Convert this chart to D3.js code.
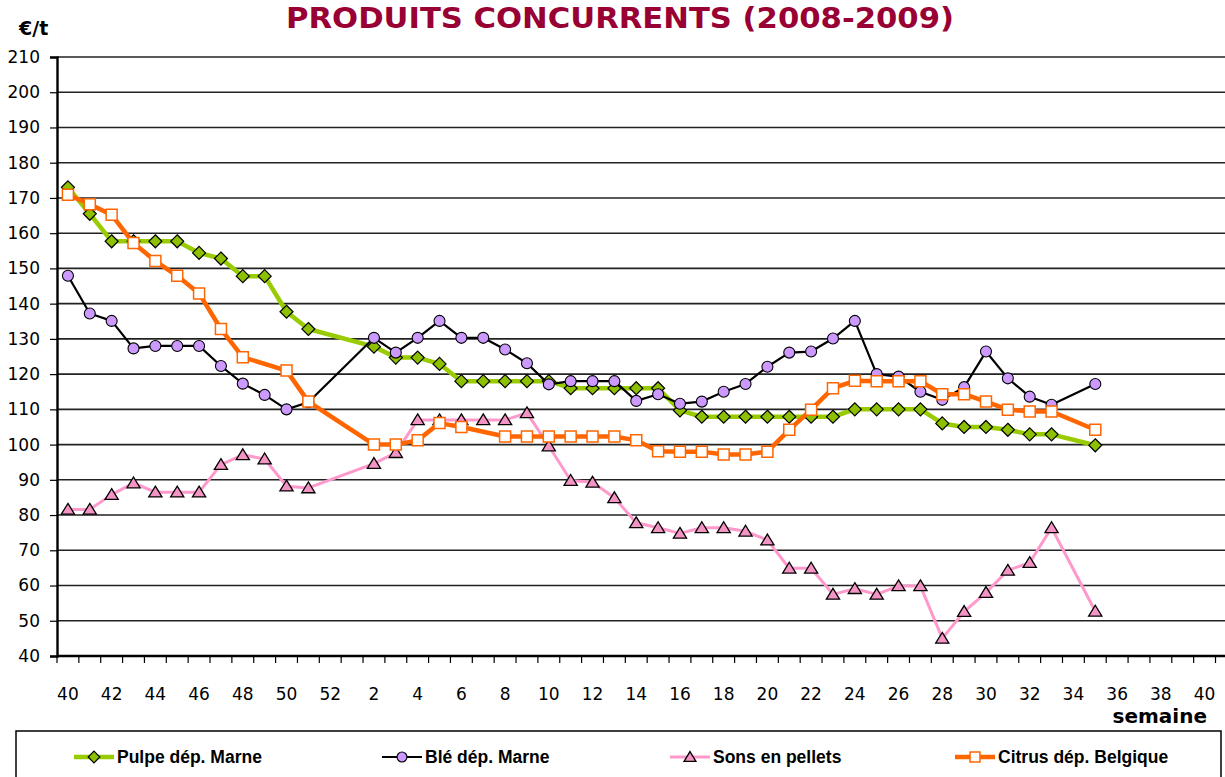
<!DOCTYPE html>
<html>
<head>
<meta charset="utf-8">
<script src="https://cdn.jsdelivr.net/npm/d3@7"></script>
<style>
  html, body { margin: 0; padding: 0; background: #fff; }
  svg { display: block; }
</style>
</head>
<body>
<div id="chart"></div>
<script>
// week labels on the category axis (2008 weeks 40..52, then 2009 weeks 1..40)
const weeks = [40, 41, 42, 43, 44, 45, 46, 47, 48, 49, 50, 51, 52,
	1, 2, 3, 4, 5, 6, 7, 8, 9, 10, 11, 12, 13, 14, 15, 16, 17, 18, 19, 20,
	21, 22, 23, 24, 25, 26, 27, 28, 29, 30, 31, 32, 33, 34, 35, 36, 37, 38, 39, 40];
const yTicks = [40, 50, 60, 70, 80, 90, 100, 110, 120, 130, 140, 150, 160, 170, 180, 190, 200, 210];

// values in €/t, from week 40 (2008) to week 35 (2009); null = no quote
const pulpe = [173, 165.5, 157.7, 157.7, 157.7, 157.7, 154.4, 152.8, 147.8, 147.8, 137.7, 132.8, null, null,
	127.8, 124.7, 124.7, 122.9, 118, 118, 118, 118, 118, 116, 116, 116, 116, 116, 109.7,
	107.9, 107.9, 107.9, 107.9, 107.9, 107.9, 107.9, 110, 110, 110, 110, 106, 105, 105, 104.2, 102.9, 102.9, null, 99.8];
const ble = [147.9, 137.2, 135.1, 127.3, 128, 128, 128, 122.3, 117.3, 114.1, 110, 112, null, null,
	130.3, 126.1, 130.3, 135.1, 130.3, 130.3, 127, 123.1, 117.1, 118, 118, 118, 112.4, 114.3, 111.6,
	112.2, 115, 117.2, 122.1, 126.1, 126.4, 130.1, 135.1, 120, 119.3, 115, 112.7, 116.3, 126.4, 118.8, 113.6, 111.3, null, 117.2];
const sons = [81.6, 81.6, 85.8, 89.1, 86.5, 86.5, 86.5, 94.3, 97.1, 95.9, 88.2, 87.7, null, null,
	94.6, 97.7, 107, 107, 107, 107, 107, 109, 99.6, 89.8, 89.3, 84.9, 77.8, 76.4, 74.8,
	76.4, 76.4, 75.4, 72.9, 64.9, 64.9, 57.5, 59.1, 57.5, 59.9, 59.9, 45, 52.6, 58, 64.3, 66.5, 76.4, null, 52.7];
const citrus = [170.9, 168.2, 165.2, 157.2, 152.1, 147.9, 142.9, 132.8, 124.8, null, 121, 112.2, null, null,
	100, 100, 101.2, 106.1, 105, null, 102.3, 102.3, 102.3, 102.3, 102.3, 102.3, 101.2, 98.1, 98,
	98, 97.2, 97.2, 98, 104.2, 109.9, 116, 118.1, 118, 118, 118, 114.3, 114.3, 112.2, 109.9, 109.4, 109.4, null, 104.2];

const seriesNames = ["Pulpe dép. Marne", "Blé dép. Marne", "Sons en pellets", "Citrus dép. Belgique"];

const W = 1225, H = 777;
const plot = {left: 57, right: 1215.5, top: 57, bottom: 656};
const tickFont = "'DejaVu Sans', Verdana, sans-serif";

const svg = d3.select("#chart").append("svg")
	.attr("width", W)
	.attr("height", H);

const x = d3.scaleBand()
	.domain(d3.range(weeks.length))
	.range([plot.left, plot.right])
	.paddingInner(0).paddingOuter(0);
const y = d3.scaleLinear()
	.domain([40, 210])
	.range([plot.bottom, plot.top]);
const cx = i => x(i) + x.bandwidth() / 2;

// marker shapes
const marker = {
	diamond: s => `M0,${-s}L${s},0L0,${s}L${-s},0Z`,
	circle: s => `M${s},0A${s},${s} 0 1,1 ${-s},0A${s},${s} 0 1,1 ${s},0Z`,
	square: s => `M${-s},${-s}H${s}V${s}H${-s}Z`,
	triangle: s => `M0,${-s}L${s * 1.1},${s * 0.8}L${-s * 1.1},${s * 0.8}Z`
};

const series = [
	{name: seriesNames[0], values: pulpe, line: "#99cc00", lw: 4.5, shape: "diamond", size: 6.5, fill: "#8dc000", stroke: "#000", sw: 1.2},
	{name: seriesNames[1], values: ble, line: "#000000", lw: 2.2, shape: "circle", size: 5.5, fill: "#cc99ff", stroke: "#000", sw: 1.1},
	{name: seriesNames[2], values: sons, line: "#ff99cc", lw: 3, shape: "triangle", size: 6, fill: "#f394c4", stroke: "#000", sw: 1.3},
	{name: seriesNames[3], values: citrus, line: "#ff6600", lw: 4.5, shape: "square", size: 5.5, fill: "#ffffff", stroke: "#ff6600", sw: 1.5}
];

// title
svg.append("text")
	.attr("x", 620)
	.attr("y", 28)
	.attr("text-anchor", "middle")
	.attr("font-family", "'DejaVu Sans', Verdana, sans-serif")
	.attr("font-weight", "bold")
	.attr("font-size", 28)
	.attr("fill", "#990033")
	.attr("textLength", 668)
	.attr("lengthAdjust", "spacingAndGlyphs")
	.text("PRODUITS CONCURRENTS (2008-2009)");

// unit
svg.append("text")
	.attr("x", 19)
	.attr("y", 35)
	.attr("font-family", tickFont)
	.attr("font-weight", "bold")
	.attr("font-size", 19)
	.text("€/t");

// horizontal gridlines
svg.append("g")
	.selectAll("line")
	.data(yTicks)
	.join("line")
		.attr("x1", plot.left)
		.attr("x2", W)
		.attr("y1", d => y(d))
		.attr("y2", d => y(d))
		.attr("stroke", d => d === 40 ? "#000" : "#222")
		.attr("stroke-width", d => d === 40 ? 2.2 : 1.6);

// Y axis
const yAxis = svg.append("g")
	.attr("transform", `translate(${plot.left},0)`)
	.call(d3.axisLeft(y).tickValues(yTicks).tickSize(7).tickPadding(10));
yAxis.select(".domain").attr("stroke", "#000").attr("stroke-width", 2.4);
yAxis.selectAll(".tick line").attr("stroke", "#000").attr("stroke-width", 1.2);
yAxis.selectAll(".tick text")
	.attr("font-family", tickFont)
	.attr("font-size", 17)
	.attr("fill", "#000");

// X axis: ticks on the category boundaries, labels every second week
const xAxisG = svg.append("g");
xAxisG.append("line")
	.attr("x1", plot.left)
	.attr("x2", W)
	.attr("y1", y(40))
	.attr("y2", y(40))
	.attr("stroke", "#000")
	.attr("stroke-width", 2.4);
xAxisG.selectAll(".xtick")
	.data(d3.range(weeks.length + 1))
	.join("line")
		.attr("class", "xtick")
		.attr("x1", i => plot.left + i * x.step())
		.attr("x2", i => plot.left + i * x.step())
		.attr("y1", y(40))
		.attr("y2", y(40) + 7)
		.attr("stroke", "#000")
		.attr("stroke-width", 1.2);
xAxisG.selectAll(".xlabel")
	.data(d3.range(weeks.length).filter(i => i % 2 === 0))
	.join("text")
		.attr("class", "xlabel")
		.attr("x", i => cx(i))
		.attr("y", 700)
		.attr("text-anchor", "middle")
		.attr("font-family", tickFont)
		.attr("font-size", 17)
		.text(i => weeks[i]);

svg.append("text")
	.attr("x", 1207)
	.attr("y", 723)
	.attr("text-anchor", "end")
	.attr("font-family", tickFont)
	.attr("font-weight", "bold")
	.attr("font-size", 20)
	.text("semaine");

// series
const line = d3.line()
	.x(d => cx(d.i))
	.y(d => y(d.v));

for (const s of series) {
	const pts = s.values.map((v, i) => ({i, v})).filter(d => d.v !== null);
	const g = svg.append("g");
	g.append("path")
		.datum(pts)
		.attr("d", line)
		.attr("fill", "none")
		.attr("stroke", s.line)
		.attr("stroke-width", s.lw)
		.attr("stroke-linejoin", "round");
	g.selectAll("path.mk")
		.data(pts)
		.join("path")
			.attr("class", "mk")
			.attr("transform", d => `translate(${cx(d.i)},${y(d.v)})`)
			.attr("d", marker[s.shape](s.size))
			.attr("fill", s.fill)
			.attr("stroke", s.stroke)
			.attr("stroke-width", s.sw);
}

// legend
const legend = svg.append("g");
legend.append("rect")
	.attr("x", 16)
	.attr("y", 731)
	.attr("width", 1205)
	.attr("height", 60)
	.attr("fill", "#fff")
	.attr("stroke", "#000")
	.attr("stroke-width", 1.5);

const legendX = [74, 382, 670, 955];
const legendY = 757;
series.forEach((s, k) => {
	const g = legend.append("g").attr("transform", `translate(${legendX[k]},${legendY})`);
	g.append("line")
		.attr("x1", 0).attr("x2", 40)
		.attr("y1", 0).attr("y2", 0)
		.attr("stroke", s.line)
		.attr("stroke-width", s.lw);
	g.append("path")
		.attr("transform", "translate(20,0)")
		.attr("d", marker[s.shape](s.size * 0.9))
		.attr("fill", s.fill)
		.attr("stroke", s.stroke)
		.attr("stroke-width", s.sw);
	g.append("text")
		.attr("x", 43)
		.attr("y", 6)
		.attr("font-family", "'Liberation Sans', Arial, sans-serif")
		.attr("font-weight", "bold")
		.attr("font-size", 17.5)
		.text(s.name);
});
</script>
</body>
</html>
